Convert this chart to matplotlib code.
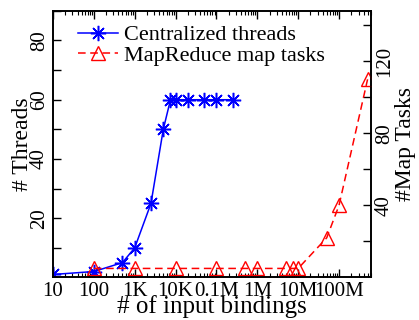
import matplotlib
matplotlib.use("Agg")
import matplotlib.pyplot as plt
from matplotlib.ticker import FixedLocator, NullFormatter, LogLocator

plt.rcParams['font.family'] = ['Liberation Serif', 'DejaVu Serif']

# Data
blue_x = [10, 100, 500, 1000, 2500, 5000, 7500, 10000, 20000, 50000, 100000, 250000]
blue_y = [1, 2, 5, 10, 25, 50, 60, 60, 60, 60, 60, 60]
red_x = [100, 1000, 10000, 100000, 500000, 1e6, 5e6, 7.5e6, 1e7, 5e7, 1e8, 5e8]
red_y = [5, 5, 5, 5, 5, 5, 5, 5, 5, 22, 40, 110]
xtick_vals = [10, 100, 1e3, 1e4, 1e5, 1e6, 1e7, 1e8]
xtick_labels = ['10', '100', '1K', '10K', '0.1M', '1M', '10M', '100M']

fig = plt.figure(figsize=(4.19, 3.2), dpi=100)
ax = fig.add_axes([0.1265, 0.133, 0.7585, 0.833])
ax2 = ax.twinx()

l1, = ax.plot(blue_x, blue_y, color='#0000ff', lw=1.1, marker=(8, 2, 0),
              markersize=11, markeredgewidth=1.1, label='Centralized threads')
l2, = ax2.plot(red_x, red_y, color='#ff0000', lw=1.1, ls=(0, (5, 3)), marker='^',
               markersize=10, markerfacecolor='none', markeredgewidth=1.0,
               label='MapReduce map tasks')

ax.set_xscale('log')
ax.set_xlim(10, 6e8)
ax.set_ylim(0, 90)
ax2.set_ylim(0, 148)

ax.xaxis.set_major_locator(FixedLocator(xtick_vals))
ax.set_xticklabels(xtick_labels)
ax.xaxis.set_minor_locator(LogLocator(base=10, subs=range(2, 10), numticks=20))
ax.xaxis.set_minor_formatter(NullFormatter())

ax.set_yticks([10, 20, 30, 40, 50, 60, 70, 80, 90])
ax.set_yticklabels(['', '20', '', '40', '', '60', '', '80', ''], rotation=90, va='center')
ax2.set_yticks([20, 40, 60, 80, 100, 120, 140])
ax2.set_yticklabels(['', '40', '', '80', '', '120', ''], rotation=90, va='center')

ax.tick_params(axis='both', which='major', direction='in', length=6, width=1, labelsize=15, pad=3)
ax.tick_params(axis='x', which='minor', direction='in', length=3, width=0.8, top=True)
ax.tick_params(axis='x', which='major', top=True)
ax.tick_params(axis='y', right=False)
ax2.tick_params(axis='y', which='major', direction='in', length=6, width=1, labelsize=15, pad=3)

for a in (ax, ax2):
    for s in a.spines.values():
        s.set_linewidth(1.2)

ax.set_xlabel('# of input bindings', fontsize=18, labelpad=-4)
ax.set_ylabel('# Threads', fontsize=17, labelpad=-2)
ax2.set_ylabel('#Map Tasks', fontsize=17, labelpad=1)

ax.legend([l1, l2], ['Centralized threads', 'MapReduce map tasks'], loc='upper left',
          frameon=False, fontsize=16, handlelength=1.8, handletextpad=0.3,
          borderaxespad=0.0, labelspacing=0.0, bbox_to_anchor=(0.05, 0.981))

fig.savefig('out.png', dpi=100)
